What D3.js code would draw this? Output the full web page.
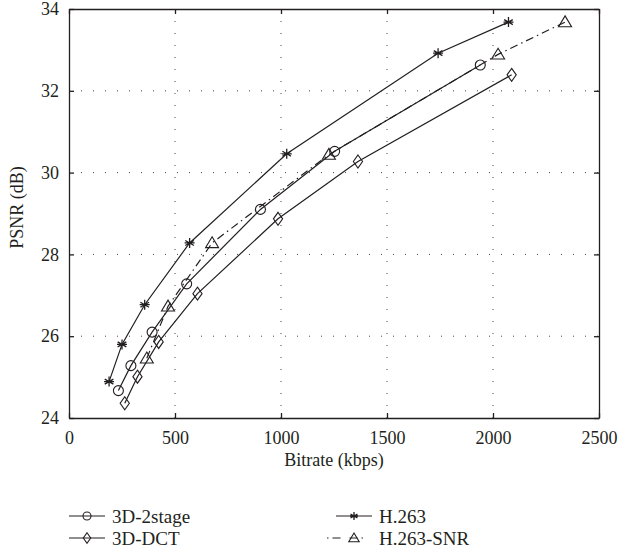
<!DOCTYPE html>
<html>
<head>
<meta charset="utf-8">
<script src="https://cdn.jsdelivr.net/npm/d3@7"></script>
<style>
  body { margin: 0; background: #fff; }
  text { font-family: "Liberation Serif", "DejaVu Serif", serif; fill: #231f20; }
</style>
</head>
<body>
<div id="chart"></div>
<script>
// data
var xTicks = [0, 500, 1000, 1500, 2000, 2500];
var yTicks = [24, 26, 28, 30, 32, 34];

var twoStage = [[233, 24.67], [292, 25.28], [392, 26.10], [555, 27.28], [903, 29.10], [1253, 30.52], [1940, 32.63]];
var dct3d    = [[263, 24.36], [323, 25.01], [423, 25.86], [606, 27.04], [986, 28.87], [1363, 30.27], [2088, 32.39]];
var h263     = [[189, 24.89], [250, 25.80], [357, 26.77], [569, 28.28], [1027, 30.46], [1741, 32.92], [2073, 33.68]];
var h263snr  = [[367, 25.46], [467, 26.73], [675, 28.28], [1226, 30.44], [2024, 32.89], [2340, 33.68]];

var seriesNames = ["3D-2stage", "3D-DCT", "H.263", "H.263-SNR"];

var margin = {top: 9, right: 20, bottom: 138, left: 69},
    width = 619 - margin.left - margin.right,
    height = 556 - margin.top - margin.bottom;

var ink = "#231f20";

var svg = d3.select("#chart")
    .append("svg")
    .attr("width", 619)
    .attr("height", 556);

var g = svg.append("g")
    .attr("transform", "translate(" + margin.left + "," + margin.top + ")");

var x = d3.scaleLinear().domain([0, 2500]).range([0, width]);
var y = d3.scaleLinear().domain([24, 34]).range([height, 0]);

// dotted grid
g.append("g").selectAll("line")
    .data(xTicks.slice(1, -1))
    .enter().append("line")
    .attr("x1", d => x(d)).attr("x2", d => x(d))
    .attr("y1", 0).attr("y2", height)
    .attr("stroke", "#444").attr("stroke-width", 1)
    .attr("stroke-dasharray", "1,11");
g.append("g").selectAll("line")
    .data(yTicks.slice(1, -1))
    .enter().append("line")
    .attr("y1", d => y(d)).attr("y2", d => y(d))
    .attr("x1", 0).attr("x2", width)
    .attr("stroke", "#444").attr("stroke-width", 1)
    .attr("stroke-dasharray", "1,11");

// axes, ticks pointing inward
var xAxis = g.append("g")
    .attr("transform", "translate(0," + height + ")")
    .call(d3.axisBottom(x).tickValues(xTicks).tickFormat(d3.format("d"))
        .tickSizeInner(-5).tickSizeOuter(0).tickPadding(13));
var yAxis = g.append("g")
    .call(d3.axisLeft(y).tickValues(yTicks).tickFormat(d3.format("d"))
        .tickSizeInner(-5).tickSizeOuter(0).tickPadding(10));
g.append("g")
    .call(d3.axisTop(x).tickValues(xTicks).tickSizeInner(-5).tickSizeOuter(0).tickFormat(""));
g.append("g")
    .attr("transform", "translate(" + width + ",0)")
    .call(d3.axisRight(y).tickValues(yTicks).tickSizeInner(-5).tickSizeOuter(0).tickFormat(""));

g.selectAll(".domain").attr("stroke", ink).attr("stroke-width", 1.3);
g.selectAll(".tick line").attr("stroke", ink).attr("stroke-width", 1.3);
xAxis.selectAll("text").style("font-size", "18px").attr("font-family", null);
yAxis.selectAll("text").style("font-size", "18px").attr("font-family", null);

// axis labels
svg.append("text")
    .attr("x", margin.left + width / 2)
    .attr("y", 466)
    .attr("text-anchor", "middle")
    .style("font-size", "18px")
    .text("Bitrate (kbps)");

svg.append("text")
    .attr("transform", "translate(23," + (margin.top + height / 2 - 6) + ") rotate(-90)")
    .attr("text-anchor", "middle")
    .style("font-size", "18px")
    .text("PSNR (dB)");

// marker shapes
function drawMarker(sel, kind, s) {
    if (kind === "circle") {
        sel.append("circle").attr("r", 5 * s)
            .attr("fill", "none").attr("stroke", ink).attr("stroke-width", 1.1);
    } else if (kind === "diamond") {
        var w = 4.6 * s, h = 6.5 * s;
        sel.append("path").attr("d", "M0," + (-h) + "L" + w + ",0L0," + h + "L" + (-w) + ",0Z")
            .attr("fill", "none").attr("stroke", ink).attr("stroke-width", 1.1);
    } else if (kind === "triangle") {
        var t = 6.2 * s;
        sel.append("path").attr("d", "M0," + (-t) + "L" + (t * 1.05) + "," + (t * 0.75) + "L" + (-t * 1.05) + "," + (t * 0.75) + "Z")
            .attr("fill", "none").attr("stroke", ink).attr("stroke-width", 1.1);
    } else if (kind === "star") {
        var r = 5 * s;
        var p = "";
        [0, 60, 120].forEach(function(a) {
            var rad = (a + 90) * Math.PI / 180;
            p += "M" + (r * Math.cos(rad)) + "," + (r * Math.sin(rad)) + "L" + (-r * Math.cos(rad)) + "," + (-r * Math.sin(rad));
        });
        p += "M" + (-r) + ",0L" + r + ",0";
        sel.append("path").attr("d", p)
            .attr("fill", "none").attr("stroke", ink).attr("stroke-width", 1.3);
    }
}

var series = [
    {name: seriesNames[0], data: twoStage, marker: "circle", dash: null},
    {name: seriesNames[1], data: dct3d, marker: "diamond", dash: null},
    {name: seriesNames[2], data: h263, marker: "star", dash: null},
    {name: seriesNames[3], data: h263snr, marker: "triangle", dash: "8,4,1.5,4"}
];

var line = d3.line().x(d => x(d[0])).y(d => y(d[1]));

series.forEach(function(s) {
    g.append("path")
        .datum(s.data)
        .attr("d", line)
        .attr("fill", "none")
        .attr("stroke", ink)
        .attr("stroke-width", 1.2)
        .attr("stroke-dasharray", s.dash);
    g.append("g").selectAll("g")
        .data(s.data)
        .enter().append("g")
        .attr("transform", d => "translate(" + x(d[0]) + "," + y(d[1]) + ")")
        .each(function() { drawMarker(d3.select(this), s.marker, 1); });
});

// legend
var legendPos = [
    {x: 69, y: 516}, {x: 69, y: 538},
    {x: 336, y: 516}, {x: 336, y: 538}
];
var len = 36;
series.forEach(function(s, i) {
    var lp = legendPos[i];
    var lg = svg.append("g").attr("transform", "translate(" + lp.x + "," + lp.y + ")");
    if (s.dash) {
        // dot, dash, (marker), dash, dot
        lg.append("line").attr("x1", -9).attr("x2", len + 1).attr("y1", 0).attr("y2", 0)
            .attr("stroke", ink).attr("stroke-width", 1.1)
            .attr("stroke-dasharray", "1.5,4,8,9,8,4,1.5,50");
    } else {
        lg.append("line").attr("x1", 0).attr("x2", len).attr("y1", 0).attr("y2", 0)
            .attr("stroke", ink).attr("stroke-width", 1.1);
    }
    var mk = lg.append("g").attr("transform", "translate(" + (len / 2) + ",0)");
    drawMarker(mk, s.marker, 0.8);
    lg.append("text")
        .attr("x", len + 7)
        .attr("y", 0)
        .attr("dy", "0.35em")
        .style("font-size", "19px")
        .text(s.name);
});
</script>
</body>
</html>
